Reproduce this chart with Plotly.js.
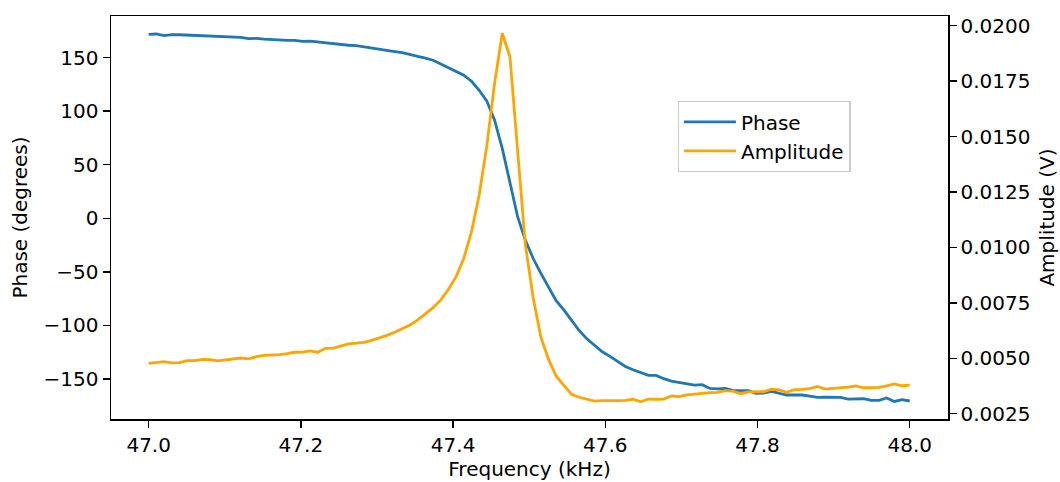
<!DOCTYPE html>
<html><head><meta charset="utf-8">
<script src="https://cdn.plot.ly/plotly-3.0.1.min.js"></script>
<style>html,body{margin:0;padding:0;background:#fff}#chart{width:1060px;height:482px}</style>
</head><body><div id="chart"></div>
<script>
const frequency = [47.0000,47.0101,47.0202,47.0303,47.0404,47.0505,47.0606,47.0707,47.0808,47.0909,
47.1010,47.1111,47.1212,47.1313,47.1414,47.1515,47.1616,47.1717,47.1818,47.1919,
47.2020,47.2121,47.2222,47.2323,47.2424,47.2525,47.2626,47.2727,47.2828,47.2929,
47.3030,47.3131,47.3232,47.3333,47.3434,47.3535,47.3636,47.3737,47.3838,47.3939,
47.4040,47.4141,47.4242,47.4343,47.4444,47.4545,47.4646,47.4747,47.4848,47.4949,
47.5051,47.5152,47.5253,47.5354,47.5455,47.5556,47.5657,47.5758,47.5859,47.5960,
47.6061,47.6162,47.6263,47.6364,47.6465,47.6566,47.6667,47.6768,47.6869,47.6970,
47.7071,47.7172,47.7273,47.7374,47.7475,47.7576,47.7677,47.7778,47.7879,47.7980,
47.8081,47.8182,47.8283,47.8384,47.8485,47.8586,47.8687,47.8788,47.8889,47.8990,
47.9091,47.9192,47.9293,47.9394,47.9495,47.9596,47.9697,47.9798,47.9899,48.0000];

const phase = [171.7,172.0,170.5,171.4,171.3,171.0,170.7,170.4,169.9,169.5,
169.0,168.6,168.9,167.7,168.0,167.3,166.7,166.1,166.0,166.1,
165.2,165.4,164.6,163.3,163.0,162.1,161.5,161.1,159.9,158.7,
158.0,156.8,155.6,154.6,153.1,151.2,149.4,147.5,144.1,140.7,
137.5,133.5,127.9,119.5,109.3,91.6,65.2,32.6,1.5,-20.2,
-37.3,-51.2,-63.7,-76.8,-85.5,-94.8,-104.7,-112.5,-119.0,-124.6,
-128.9,-133.6,-138.3,-141.3,-144.1,-146.6,-146.6,-149.7,-151.9,-153.2,
-154.1,-155.6,-155.3,-158.8,-159.1,-158.8,-160.6,-160.9,-160.9,-163.4,
-163.1,-161.5,-163.1,-164.9,-164.9,-164.9,-165.9,-167.1,-166.9,-166.9,
-167.1,-168.7,-168.7,-168.4,-169.9,-169.9,-167.7,-170.9,-169.3,-170.5];

const amplitude = [0.00477,0.00482,0.00485,0.00479,0.00480,0.00489,0.00489,0.00495,0.00494,0.00488,
0.00492,0.00498,0.00501,0.00497,0.00507,0.00513,0.00513,0.00516,0.00521,0.00527,
0.00528,0.00533,0.00527,0.00545,0.00546,0.00554,0.00565,0.00568,0.00572,0.00581,
0.00591,0.00603,0.00617,0.00633,0.00650,0.00673,0.00700,0.00728,0.00763,0.00811,
0.00868,0.00951,0.01071,0.01236,0.01460,0.01740,0.01966,0.01860,0.01435,0.01014,
0.00775,0.00597,0.00496,0.00420,0.00378,0.00337,0.00324,0.00315,0.00307,0.00309,
0.00308,0.00309,0.00310,0.00315,0.00304,0.00316,0.00315,0.00316,0.00330,0.00327,
0.00335,0.00339,0.00343,0.00345,0.00346,0.00354,0.00352,0.00340,0.00348,0.00349,
0.00349,0.00360,0.00357,0.00346,0.00358,0.00360,0.00363,0.00373,0.00361,0.00364,
0.00366,0.00370,0.00375,0.00367,0.00367,0.00369,0.00375,0.00384,0.00376,0.00379];

const seriesNames = ['Phase', 'Amplitude'];
const xLabel = 'Frequency (kHz)';
const y1Label = 'Phase (degrees)';
const y2Label = 'Amplitude (V)';

const FONT = 'DejaVu Sans, Liberation Sans, sans-serif';
const axisCommon = {
  showline: true, linecolor: '#000', linewidth: 1.5,
  ticks: 'outside', ticklen: 7, tickwidth: 1.5, tickcolor: '#000',
  showgrid: false, zeroline: false,
  tickfont: {family: FONT, size: 20, color: '#000'}
};

const traces = [
  {x: frequency, y: phase, name: seriesNames[0], type: 'scatter', mode: 'lines',
   line: {color: '#1f77b4', width: 2.8}, yaxis: 'y', legendgroup: 'a'},
  {x: frequency, y: amplitude, name: seriesNames[1], type: 'scatter', mode: 'lines',
   line: {color: '#ffa500', width: 2.8}, yaxis: 'y2', legendgroup: 'b'}
];

const layout = {
  width: 1060, height: 482,
  margin: {l: 111, r: 112, t: 16, b: 63},
  paper_bgcolor: '#fff', plot_bgcolor: '#fff',
  font: {family: FONT, size: 20, color: '#000'},
  xaxis: Object.assign({}, axisCommon, {
    range: [46.9505, 48.0503], tickmode: 'linear', tick0: 47, dtick: 0.2, tickformat: '.1f',
    mirror: true,
    title: {text: xLabel, font: {family: FONT, size: 20, color: '#000'}, standoff: 6}
  }),
  yaxis: Object.assign({}, axisCommon, {
    range: [-187.3, 188.8], tickmode: 'linear', tick0: 0, dtick: 50,
    title: {text: y1Label, font: {family: FONT, size: 20, color: '#000'}, standoff: 10}
  }),
  yaxis2: Object.assign({}, axisCommon, {
    range: [0.00226, 0.020437], tickmode: 'linear', tick0: 0.0025, dtick: 0.0025, tickformat: '.4f',
    overlaying: 'y', side: 'right',
    title: {text: y2Label, font: {family: FONT, size: 20, color: '#000'}, standoff: 10}
  }),
  showlegend: true,
  legend: {
    x: 0.677, y: 0.789, xanchor: 'left', yanchor: 'top',
    bgcolor: 'rgba(255,255,255,0.8)', bordercolor: '#cccccc', borderwidth: 1.3,
    font: {family: FONT, size: 20, color: '#000'},
    tracegroupgap: 0, itemwidth: 52
  }
};

Plotly.newPlot('chart', traces, layout, {displayModeBar: false, staticPlot: true});
</script>
</body></html>
